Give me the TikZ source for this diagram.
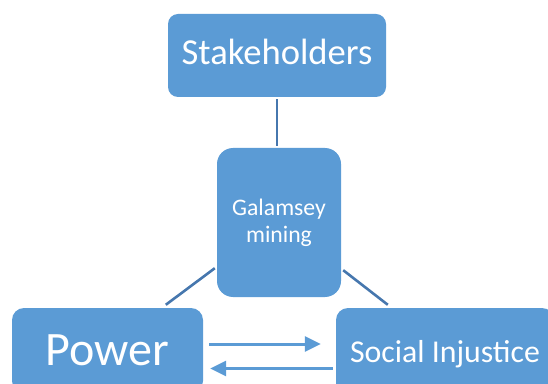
\documentclass[tikz,border=0pt]{standalone}
\usepackage{fontspec}
\setmainfont{Carlito}
\usetikzlibrary{arrows.meta,calc}
\definecolor{boxblue}{HTML}{5B9BD5}
\definecolor{linkblue}{HTML}{4677AE}
\tikzset{
  box/.style={fill=boxblue, draw=none, text=white, inner sep=0pt},
  link/.style={draw=linkblue, line width=2.6pt},
  flow/.style={draw=boxblue, line width=3pt, -{Triangle[length=16pt,width=15pt]}}
}
\begin{document}
\begin{tikzpicture}[x=1pt,y=1pt]
\useasboundingbox (0,0) rectangle (548,383);
\clip (0,0) rectangle (548,383);
\node[box, rounded corners=10pt, minimum width=218pt, minimum height=83pt,
      font=\fontsize{36.6}{44}\selectfont, text height=25pt, text depth=6pt]
  (stake) at (277,327.5) {Stakeholders};
\node[box, rounded corners=16pt, minimum width=124pt, minimum height=149pt,
      align=center, font=\fontsize{23.7}{27}\selectfont]
  (gal) at (279,160.5) {Galamsey\\mining};
\node[box, rounded corners=12pt, minimum width=191pt, minimum height=85pt,
      font=\fontsize{48}{56}\selectfont]
  (power) at (107.5,32.5) {Power};
\node[box, rounded corners=12pt, minimum width=218pt, minimum height=92pt,
      font=\fontsize{31.8}{38}\selectfont]
  (social) at (445,29) {Social Injustice};
% connectors
\draw[link] ($(stake.south)+(0,-2)$) -- ($(stake.south |- gal.north)+(0,2)$);
\coordinate (gl) at ($(gal.south west)+(-2,29)$);
\coordinate (pl) at ($(power.north west)+(154,3)$);
\draw[link] (gl) -- (pl);
\coordinate (gr) at ($(gal.south east)+(2,27)$);
\coordinate (sr) at ($(social.north west)+(52,3)$);
\draw[link] (gr) -- (sr);
% flows
\coordinate (pa) at ($(power.east)+(6,6.5)$);
\coordinate (sa) at ($(social.west |- pa)+(-15,0)$);
\draw[flow] (pa) -- (sa);
\coordinate (sb) at ($(social.west)+(-3,-14.5)$);
\coordinate (pb) at ($(power.east |- sb)+(7,0)$);
\draw[flow] (sb) -- (pb);
\end{tikzpicture}
\end{document}
